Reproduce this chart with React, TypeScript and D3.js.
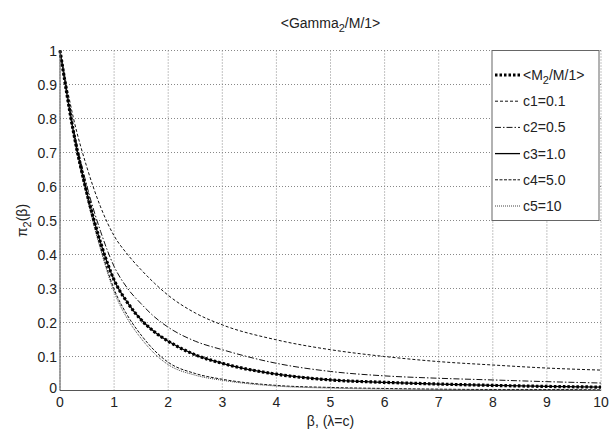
import React from "react";
import * as d3 from "d3";

const betas = [0, 0.25, 0.5, 0.75, 1, 1.25, 1.5, 1.75, 2, 2.5, 3, 4, 5, 6, 7, 8, 9, 10];
const m2 = [1, 0.76, 0.58, 0.435, 0.325, 0.258, 0.208, 0.172, 0.145, 0.105, 0.08, 0.048, 0.031, 0.024, 0.019, 0.015, 0.012, 0.01];
const c1 = [1, 0.8, 0.655, 0.54, 0.455, 0.4, 0.355, 0.315, 0.28, 0.228, 0.193, 0.149, 0.12, 0.1, 0.085, 0.075, 0.066, 0.06];
const c2 = [1, 0.77, 0.6, 0.468, 0.365, 0.3, 0.255, 0.216, 0.186, 0.145, 0.12, 0.08, 0.056, 0.043, 0.036, 0.031, 0.026, 0.022];
const c3 = [1, 0.76, 0.58, 0.435, 0.325, 0.258, 0.208, 0.172, 0.145, 0.105, 0.08, 0.048, 0.031, 0.024, 0.019, 0.015, 0.012, 0.01];
const c4 = [1, 0.75, 0.57, 0.42, 0.298, 0.22, 0.163, 0.117, 0.083, 0.05, 0.033, 0.015, 0.009, 0.006, 0.004, 0.003, 0.003, 0.002];
const c5 = [1, 0.75, 0.565, 0.415, 0.29, 0.21, 0.153, 0.108, 0.076, 0.045, 0.03, 0.013, 0.007, 0.004, 0.003, 0.002, 0.002, 0.001];

const xTicks = [0, 1, 2, 3, 4, 5, 6, 7, 8, 9, 10];
const yTicks = [0, 0.1, 0.2, 0.3, 0.4, 0.5, 0.6, 0.7, 0.8, 0.9, 1];
const legendLabels = ["c1=0.1", "c2=0.5", "c3=1.0", "c4=5.0", "c5=10"];

const W = 609, H = 430;
const L = 60, R = 601, T = 50.5, B = 390.5;
const FONT = "'Liberation Sans', Arial, sans-serif";
const FS = 14;

export default function App() {
  const x = d3.scaleLinear().domain([0, 10]).range([L, R]);
  const y = d3.scaleLinear().domain([0, 1]).range([B, T]);
  const line = (vals: number[]) =>
    d3.line<number>().x((_, i) => x(betas[i])).y((v) => y(v)).curve(d3.curveMonotoneX)(vals) || "";

  const styles = [
    { d: c1, dash: "3 2", w: 1, col: "#111" },
    { d: c2, dash: "6 2 1.5 2", w: 1, col: "#111" },
    { d: c3, dash: "none", w: 1.3, col: "#000" },
    { d: c4, dash: "3 1.5", w: 1, col: "#111" },
    { d: c5, dash: "1 1", w: 1, col: "#444" },
  ];

  const legX = 492, legY = 50.5, legW = 107, legH = 170;
  const legRow = (i: number) => 75 + 26.2 * i;

  return (
    <svg width={W} height={H} style={{ position: "absolute", left: 0, top: 0, background: "#fff" }} fontFamily={FONT}>
      <rect width={W} height={H} fill="#fff" />
      {xTicks.map((t) => (
        <line key={"gx" + t} x1={x(t)} x2={x(t)} y1={T} y2={B} stroke="#888" strokeDasharray="1 2" strokeWidth={1} />
      ))}
      {yTicks.map((t) => (
        <line key={"gy" + t} x1={L} x2={R} y1={y(t)} y2={y(t)} stroke="#888" strokeDasharray="1 2" strokeWidth={1} />
      ))}
      {styles.map((s, i) => (
        <path key={"c" + i} d={line(s.d)} fill="none" stroke={s.col} strokeWidth={s.w} strokeDasharray={s.dash} />
      ))}
      <path d={line(m2)} fill="none" stroke="#000" strokeWidth={3.2} strokeDasharray="2.5 2" />
      <line x1={L} x2={L} y1={T} y2={B} stroke="#555" />
      <line x1={L} x2={R} y1={B} y2={B} stroke="#555" />
      {xTicks.map((t) => (
        <text key={"xt" + t} x={x(t)} y={407} textAnchor="middle" fontSize={FS} fill="#222">
          {t}
        </text>
      ))}
      {yTicks.map((t) => (
        <text key={"yt" + t} x={57} y={t === 0 ? y(t) + 2 : y(t) + 5} textAnchor="end" fontSize={FS} fill="#222">
          {t}
        </text>
      ))}
      <text x={(L + R) / 2} y={28} textAnchor="middle" fontSize={FS} fill="#222">
        {"<Gamma"}
        <tspan dy={4} fontSize={11}>2</tspan>
        <tspan dy={-4}>{"/M/1>"}</tspan>
      </text>
      <text x={(L + R) / 2} y={426} textAnchor="middle" fontSize={FS} fill="#222">
        β, (λ=c)
      </text>
      <text transform={`translate(27,${(T + B) / 2}) rotate(-90)`} textAnchor="middle" fontSize={FS} fill="#222">
        π<tspan dy={4} fontSize={11}>2</tspan>
        <tspan dy={-4}>(β)</tspan>
      </text>
      <rect x={legX} y={legY} width={legW} height={legH} fill="#fff" stroke="#666" strokeWidth={1} />
      <line x1={495} x2={520} y1={legRow(0)} y2={legRow(0)} stroke="#000" strokeWidth={3.2} strokeDasharray="2.5 2" />
      <text x={523} y={legRow(0) + 5} fontSize={FS} fill="#222">
        {"<M"}
        <tspan dy={4} fontSize={11}>2</tspan>
        <tspan dy={-4}>{"/M/1>"}</tspan>
      </text>
      {styles.map((s, i) => (
        <g key={"lg" + i}>
          <line x1={495} x2={520} y1={legRow(i + 1)} y2={legRow(i + 1)} stroke={s.col} strokeWidth={s.w} strokeDasharray={s.dash} />
          <text x={523} y={legRow(i + 1) + 5} fontSize={FS} fill="#222">
            {legendLabels[i]}
          </text>
        </g>
      ))}
    </svg>
  );
}
